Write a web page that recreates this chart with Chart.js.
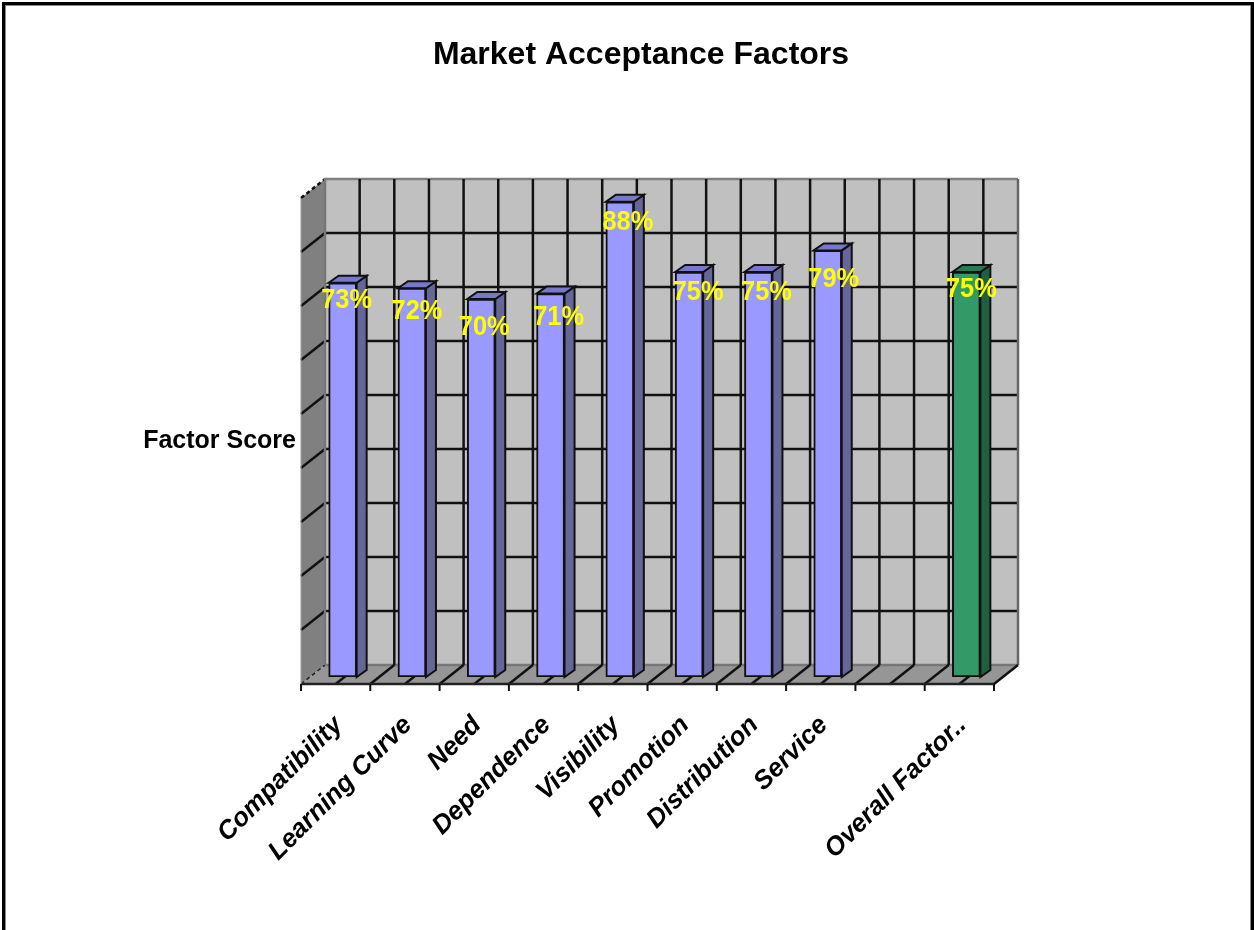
<!DOCTYPE html>
<html>
<head>
<meta charset="utf-8">
<title>Market Acceptance Factors</title>
<script src="https://cdn.jsdelivr.net/npm/chart.js@4"></script>
<style>
    html, body { margin: 0; padding: 0; background: #fff; overflow: hidden; }
    #frame { position: absolute; left: 2px; top: 2px; width: 1252px; height: 940px; border: 3px solid #000; box-sizing: border-box; box-shadow: inset 0 0 0 1px #888; }
    canvas { position: absolute; left: 0; top: 0; filter: blur(0.5px); }
</style>
</head>
<body>
<div id="frame"></div>
<canvas id="chart" width="1254" height="930" style="width:1254px;height:930px"></canvas>
<script>
const categories = ['Compatibility', 'Learning Curve', 'Need', 'Dependence', 'Visibility', 'Promotion', 'Distribution', 'Service', '', 'Overall Factor..'];
const factorScores = [73, 72, 70, 71, 88, 75, 75, 79, null, 75];
const yTicks = [0, 10, 20, 30, 40, 50, 60, 70, 80, 90];

// colours per bar: front / side / top
const blueBar = ['#9999ff', '#666699', '#7777cc'];
const greenBar = ['#339966', '#1f6040', '#287a50'];
const barColors = factorScores.map((v, i) => i === 9 ? greenBar : blueBar);

// the labels do not sit at a constant place on the bars, so nudge each one
const labelDx = [4, 5, 3, 8, 8, 9, 8, 6, 0, 5];
const labelDy = [18, 23, 29, 24, 21, 21, 21, 29, 0, 18];

// 3D offsets from the plane of the bars
const backDx = 17, backDy = -12;
const frontDx = -7, frontDy = 7;
const barDepthX = 10, barDepthY = -7;

function poly(ctx, pts, fill, stroke, lw) {
    ctx.beginPath();
    pts.forEach((p, i) => i ? ctx.lineTo(p[0], p[1]) : ctx.moveTo(p[0], p[1]));
    ctx.closePath();
    if (fill) { ctx.fillStyle = fill; ctx.fill(); }
    if (stroke) { ctx.strokeStyle = stroke; ctx.lineWidth = lw || 1; ctx.stroke(); }
}

function seg(ctx, x1, y1, x2, y2, color, lw, dash) {
    ctx.beginPath();
    ctx.setLineDash(dash || []);
    ctx.moveTo(x1, y1);
    ctx.lineTo(x2, y2);
    ctx.strokeStyle = color;
    ctx.lineWidth = lw;
    ctx.stroke();
    ctx.setLineDash([]);
}

const walls3d = {
    id: 'walls3d',
    beforeDatasetsDraw(chart) {
        const { ctx, scales: { x, y } } = chart;
        const y0 = y.getPixelForValue(0), yTop = y.getPixelForValue(90);
        const L = x.left, R = x.right;
        const halfStep = (R - L) / (categories.length * 2);
        ctx.save();

        // back wall, side wall, floor
        poly(ctx, [[L + backDx, yTop + backDy], [R + backDx, yTop + backDy], [R + backDx, y0 + backDy], [L + backDx, y0 + backDy]], '#c0c0c0');
        poly(ctx, [[L + frontDx, yTop + frontDy], [L + backDx, yTop + backDy], [L + backDx, y0 + backDy], [L + frontDx, y0 + frontDy]], '#808080');
        poly(ctx, [[L + frontDx, y0 + frontDy], [L + backDx, y0 + backDy], [R + backDx, y0 + backDy], [R + frontDx, y0 + frontDy]], '#969696');

        // horizontal grid on back wall and side wall
        yTicks.forEach(v => {
            const py = y.getPixelForValue(v);
            if (v > 0) {
                seg(ctx, L + backDx, py + backDy, R + backDx, py + backDy, v === 90 ? '#808080' : '#111', 2.5);
                seg(ctx, L + frontDx, py + frontDy, L + backDx, py + backDy, '#111', 2.5, v === 90 ? [4, 3] : null);
            }
        });
        seg(ctx, L + frontDx, y0 + frontDy, L + backDx, y0 + backDy, '#222', 1.5, [4, 3]);
        seg(ctx, L + backDx, y0 + backDy, R + backDx, y0 + backDy, '#777', 2.5);

        // verticals on back wall, diagonals on the floor
        for (let i = 0; i <= categories.length * 2; i++) {
            const px = L + i * halfStep;
            const color = (i === 0 || i === categories.length * 2) ? '#666' : '#111';
            seg(ctx, px + backDx, yTop + backDy, px + backDx, y0 + backDy, i === 0 ? '#777' : color, 2.5);
            if (i > 0) seg(ctx, px + frontDx, y0 + frontDy, px + backDx, y0 + backDy, '#111', 2.5);
        }
        seg(ctx, L + frontDx, y0 + frontDy, R + frontDx, y0 + frontDy, '#222', 2.5);
        seg(ctx, L + frontDx, yTop + frontDy, L + frontDx, y0 + frontDy, '#999', 1);

        // tick marks below the front edge
        for (let i = 0; i <= categories.length; i++) {
            const px = L + i * halfStep * 2 + frontDx;
            seg(ctx, px, y0 + frontDy, px, y0 + frontDy + 7, '#111', 2);
        }

        // side and top faces of each bar
        chart.getDatasetMeta(0).data.forEach((bar, i) => {
            if (factorScores[i] === null) return;
            const l = bar.x - bar.width / 2, r = bar.x + bar.width / 2;
            const t = bar.y, b = bar.base;
            poly(ctx, [[r, t], [r + barDepthX, t + barDepthY], [r + barDepthX, b + barDepthY], [r, b]], barColors[i][1], '#111', 2);
            poly(ctx, [[l, t], [l + barDepthX, t + barDepthY], [r + barDepthX, t + barDepthY], [r, t]], barColors[i][2], '#111', 2);
        });
        ctx.restore();
    },
    afterDatasetsDraw(chart) {
        const { ctx } = chart;
        ctx.save();
        ctx.fillStyle = '#ffff00';
        ctx.font = 'bold 27px "Liberation Sans"';
        ctx.textAlign = 'center';
        ctx.textBaseline = 'middle';
        chart.getDatasetMeta(0).data.forEach((bar, i) => {
            if (factorScores[i] === null) return;
            // the value labels are a bit narrower than the font
            ctx.save();
            ctx.translate(bar.x + labelDx[i], bar.y + labelDy[i]);
            ctx.scale(0.94, 1);
            ctx.fillText(factorScores[i] + '%', 0, 0);
            ctx.restore();
        });

        // horizontal axis title, chart.js would rotate it
        ctx.fillStyle = '#000';
        ctx.font = 'bold 25px "Liberation Sans"';
        ctx.textAlign = 'right';
        ctx.fillText('Factor Score', 296, 441);
        ctx.restore();
    }
};

new Chart(document.getElementById('chart'), {
    type: 'bar',
    data: {
        labels: categories,
        datasets: [{
            data: factorScores,
            backgroundColor: barColors.map(c => c[0]),
            borderColor: '#111',
            borderWidth: 2,
            borderSkipped: false,
            barThickness: 28
        }]
    },
    options: {
        responsive: false,
        animation: false,
        layout: { padding: { left: 28, right: 0, top: 0, bottom: 0 } },
        plugins: {
            legend: { display: false },
            tooltip: { enabled: false },
            title: {
                display: true,
                text: 'Market Acceptance Factors',
                color: '#000',
                font: { family: '"Liberation Sans"', size: 32, weight: 'bold', lineHeight: 1.2 },
                padding: { top: 36, bottom: 116.6 }
            }
        },
        scales: {
            x: {
                grid: { display: false },
                border: { display: false },
                ticks: {
                    autoSkip: false,
                    minRotation: 45,
                    maxRotation: 45,
                    padding: 25,
                    labelOffset: -4,
                    color: '#000',
                    font: { family: '"Liberation Sans"', size: 26, weight: 'bold', style: 'italic' }
                },
                afterFit(s) { s.height = 253; }
            },
            y: {
                min: 0,
                max: 90,
                grid: { display: false },
                border: { display: false },
                ticks: { display: false, stepSize: 10 },
                afterFit(s) { s.width = 280; }
            },
            // only keeps the right margin of the plot
            yRight: {
                position: 'right',
                min: 0,
                max: 90,
                grid: { display: false },
                border: { display: false },
                ticks: { display: false },
                afterFit(s) { s.width = 253; }
            }
        }
    },
    plugins: [walls3d]
});
</script>
</body>
</html>
